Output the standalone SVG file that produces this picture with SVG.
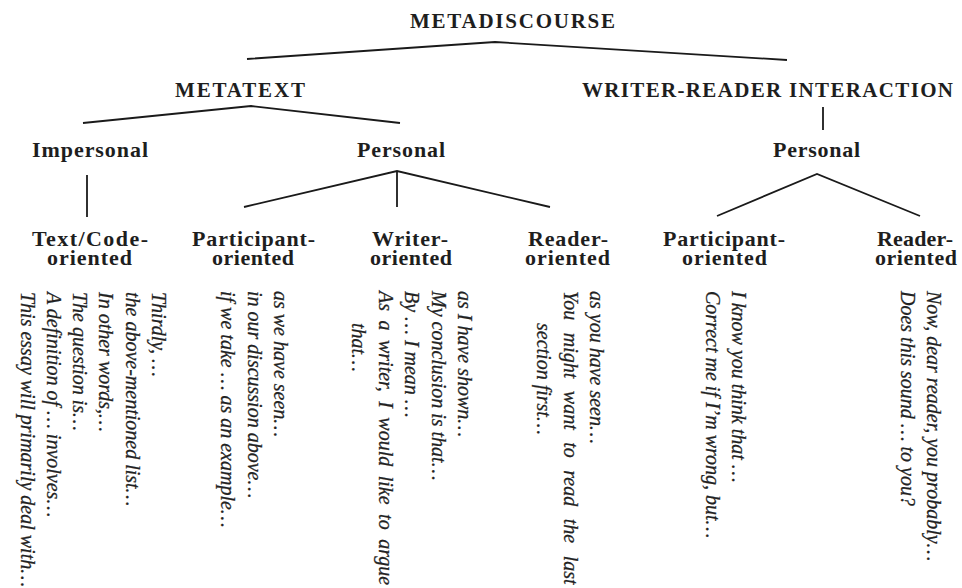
<svg xmlns="http://www.w3.org/2000/svg" width="962" height="588" viewBox="0 0 962 588">
<style>
.h{font-family:"Liberation Serif",serif;font-weight:bold;font-size:22px;fill:#1e1e1e}
.cap{font-family:"Liberation Serif",serif;font-weight:bold;font-size:21px;fill:#1e1e1e}
.ex{font-family:"Liberation Serif",serif;font-style:italic;font-size:20px;fill:#222;stroke:#222;stroke-width:0.25}
.c{fill:none;stroke:#1a1a1a;stroke-width:1.8;stroke-linejoin:miter}
</style>
<rect width="962" height="588" fill="#ffffff"/>
<g id="connectors">
<polyline class="c" points="247,59 495,42 787,60"/>
<polyline class="c" points="83,123 251,106 400,123"/>
<line class="c" x1="87" y1="175" x2="87" y2="217"/>
<polyline class="c" points="244,207 397,171 550,207"/>
<line class="c" x1="397" y1="171" x2="397" y2="207"/>
<line class="c" x1="823" y1="107" x2="823" y2="130"/>
<polyline class="c" points="717,216 817,174 920,216"/>
</g>
<g id="metadiscourse"><text class="cap" x="410" y="28" textLength="205" lengthAdjust="spacing">METADISCOURSE</text></g>
<g id="metatext"><text class="cap" x="175" y="97" textLength="130" lengthAdjust="spacing">METATEXT</text></g>
<g id="writer-reader"><text class="cap" x="582" y="97" textLength="371" lengthAdjust="spacing">WRITER-READER INTERACTION</text></g>
<g id="impersonal"><text class="h" x="32" y="157" textLength="116" lengthAdjust="spacing">Impersonal</text></g>
<g id="personal-metatext"><text class="h" x="357" y="157" textLength="88" lengthAdjust="spacing">Personal</text></g>
<g id="personal-interaction"><text class="h" x="773" y="157" textLength="87" lengthAdjust="spacing">Personal</text></g>
<g id="textcode-oriented">
<text class="h" x="32" y="246" textLength="116" lengthAdjust="spacing">Text/Code-</text>
<text class="h" x="47" y="265" textLength="85" lengthAdjust="spacing">oriented</text>
</g>
<g id="participant-oriented-1">
<text class="h" x="192" y="246" textLength="123" lengthAdjust="spacing">Participant-</text>
<text class="h" x="212" y="265" textLength="82" lengthAdjust="spacing">oriented</text>
</g>
<g id="writer-oriented">
<text class="h" x="372" y="246" textLength="76" lengthAdjust="spacing">Writer-</text>
<text class="h" x="370" y="265" textLength="82" lengthAdjust="spacing">oriented</text>
</g>
<g id="reader-oriented-1">
<text class="h" x="528" y="246" textLength="80" lengthAdjust="spacing">Reader-</text>
<text class="h" x="525" y="265" textLength="85" lengthAdjust="spacing">oriented</text>
</g>
<g id="participant-oriented-2">
<text class="h" x="663" y="246" textLength="122" lengthAdjust="spacing">Participant-</text>
<text class="h" x="682" y="265" textLength="85" lengthAdjust="spacing">oriented</text>
</g>
<g id="reader-oriented-2">
<text class="h" x="877" y="246" textLength="76" lengthAdjust="spacing">Reader-</text>
<text class="h" x="875" y="265" textLength="82" lengthAdjust="spacing">oriented</text>
</g>
<g id="examples-textcode">
<text class="ex" transform="translate(152,292) rotate(90)">
<tspan x="0" y="0">Thirdly, …</tspan>
<tspan x="0" dy="26.3">the above-mentioned list…</tspan>
<tspan x="0" dy="26.3">In other words,…</tspan>
<tspan x="0" dy="26.3">The question is…</tspan>
<tspan x="0" dy="26.3">A definition of … involves…</tspan>
<tspan x="0" dy="26.3">This essay will primarily deal with…</tspan>
</text>
</g>
<g id="examples-participant-1">
<text class="ex" transform="translate(274,291) rotate(90)">
<tspan x="0" y="0">as we have seen…</tspan>
<tspan x="0" dy="26.3">in our discussion above…</tspan>
<tspan x="0" dy="26.3">if we take … as an example…</tspan>
</text>
</g>
<g id="examples-writer">
<text class="ex" transform="translate(458,291) rotate(90)">
<tspan x="0" y="0">as I have shown…</tspan>
<tspan x="0" dy="26.5">My conclusion is that…</tspan>
<tspan x="0" dy="26.5">By … I mean …</tspan>
<tspan x="0" dy="26.5" style="word-spacing:4.5px">As a writer, I would like to argue</tspan>
<tspan x="32" dy="26.5">that…</tspan>
</text>
</g>
<g id="examples-reader-1">
<text class="ex" transform="translate(590,291) rotate(90)">
<tspan x="0" y="0">as you have seen…</tspan>
<tspan x="0" dy="26.5" style="word-spacing:7.5px">You might want to read the last</tspan>
<tspan x="32" dy="26.5">section first…</tspan>
</text>
</g>
<g id="examples-participant-2">
<text class="ex" transform="translate(732,291) rotate(90)">
<tspan x="0" y="0">I know you think that …</tspan>
<tspan x="0" dy="26.5">Correct me if I’m wrong, but…</tspan>
</text>
</g>
<g id="examples-reader-2">
<text class="ex" transform="translate(927,291) rotate(90)">
<tspan x="0" y="0">Now, dear reader, you probably…</tspan>
<tspan x="0" dy="26.5">Does this sound … to you?</tspan>
</text>
</g>
</svg>
